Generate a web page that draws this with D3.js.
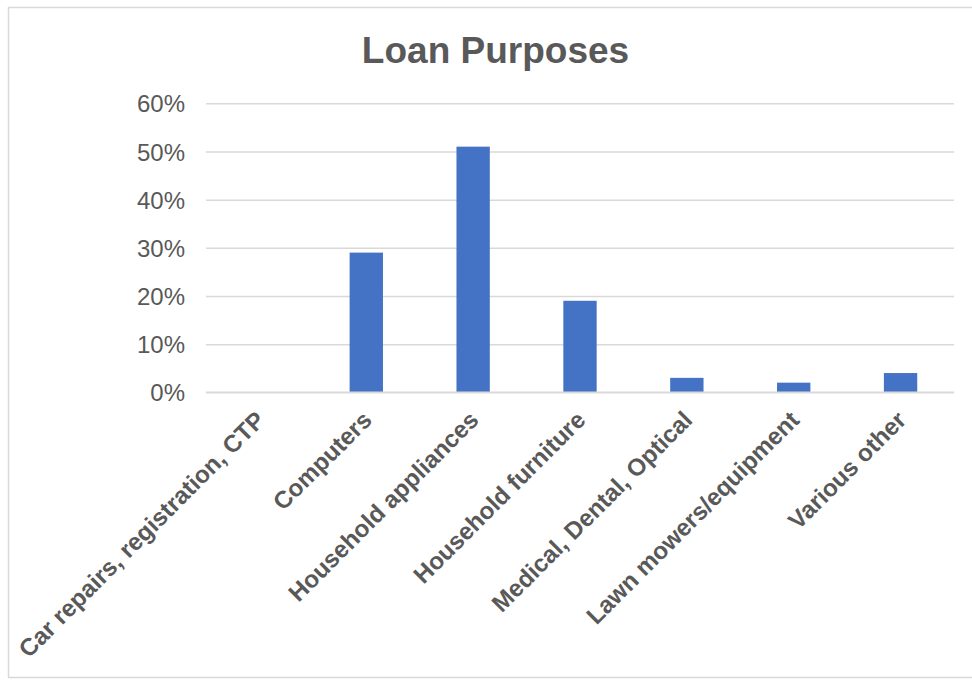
<!DOCTYPE html>
<html>
<head>
<meta charset="utf-8">
<script src="https://cdn.jsdelivr.net/npm/d3@7"></script>
<style>
  html, body { margin: 0; padding: 0; background: #fff; }
  svg { display: block; font-family: "Liberation Sans", Arial, sans-serif; }
</style>
</head>
<body>
<svg id="chart" width="972" height="680"></svg>
<script>
// Share of loans by purpose
const categories = [
  "Car repairs, registration, CTP",
  "Computers",
  "Household appliances",
  "Household furniture",
  "Medical, Dental, Optical",
  "Lawn mowers/equipment",
  "Various other"
];
const shares = [0, 0.29, 0.51, 0.19, 0.03, 0.02, 0.04];
const yTicks = [0, 0.1, 0.2, 0.3, 0.4, 0.5, 0.6];
const title = "Loan Purposes";

const textColor = "#595959";
const barColor = "#4472C4";
const gridColor = "#d9d9d9";

const svg = d3.select("#chart");

// chart area frame
svg.append("rect")
  .attr("x", 8.5).attr("y", 7.5)
  .attr("width", 980).attr("height", 670)
  .attr("fill", "#fff")
  .attr("stroke", gridColor)
  .attr("stroke-width", 1.5);

const plot = { left: 206, right: 954, top: 103.3, bottom: 392.3 };

const x = d3.scaleBand()
  .domain(categories)
  .range([plot.left, plot.right])
  .paddingInner(0.688)
  .paddingOuter(0.344);

const y = d3.scaleLinear()
  .domain([0, 0.6])
  .range([plot.bottom, plot.top]);

// gridlines + y labels
const yAxis = d3.axisLeft(y)
  .tickValues(yTicks)
  .tickFormat(d3.format(".0%"))
  .tickSize(-(plot.right - plot.left))
  .tickPadding(21);

const gy = svg.append("g")
  .attr("transform", `translate(${plot.left},0)`)
  .call(yAxis);
gy.select(".domain").remove();
gy.selectAll(".tick line")
  .attr("stroke", gridColor)
  .attr("stroke-width", 1.5);
gy.selectAll(".tick text")
  .attr("fill", textColor)
  .attr("font-size", 24)
  .attr("dy", "0.36em");

// bars
svg.append("g")
  .selectAll("rect")
  .data(categories.map((c, i) => ({ c, v: shares[i] })))
  .join("rect")
  .attr("x", d => x(d.c))
  .attr("width", x.bandwidth())
  .attr("y", d => y(d.v))
  .attr("height", d => y(0) - y(d.v))
  .attr("fill", barColor);

// baseline over the bars
svg.append("line")
  .attr("x1", plot.left).attr("x2", plot.right)
  .attr("y1", y(0)).attr("y2", y(0))
  .attr("stroke", gridColor)
  .attr("stroke-width", 1.5);

// rotated category labels
const xAxis = d3.axisBottom(x).tickSize(0).tickPadding(0);
const gx = svg.append("g")
  .attr("transform", `translate(0,${plot.bottom})`)
  .call(xAxis);
gx.select(".domain").remove();
gx.selectAll(".tick text")
  .attr("fill", textColor)
  .attr("font-size", 24.2)
  .attr("font-weight", "bold")
  .attr("text-anchor", "end")
  .attr("dy", 0)
  .attr("y", 0)
  .attr("transform", "translate(7,29.2) rotate(-45)");

// title
svg.append("text")
  .attr("x", 495.5)
  .attr("y", 63)
  .attr("text-anchor", "middle")
  .attr("font-size", 37)
  .attr("font-weight", "bold")
  .attr("fill", textColor)
  .text(title);
</script>
</body>
</html>
